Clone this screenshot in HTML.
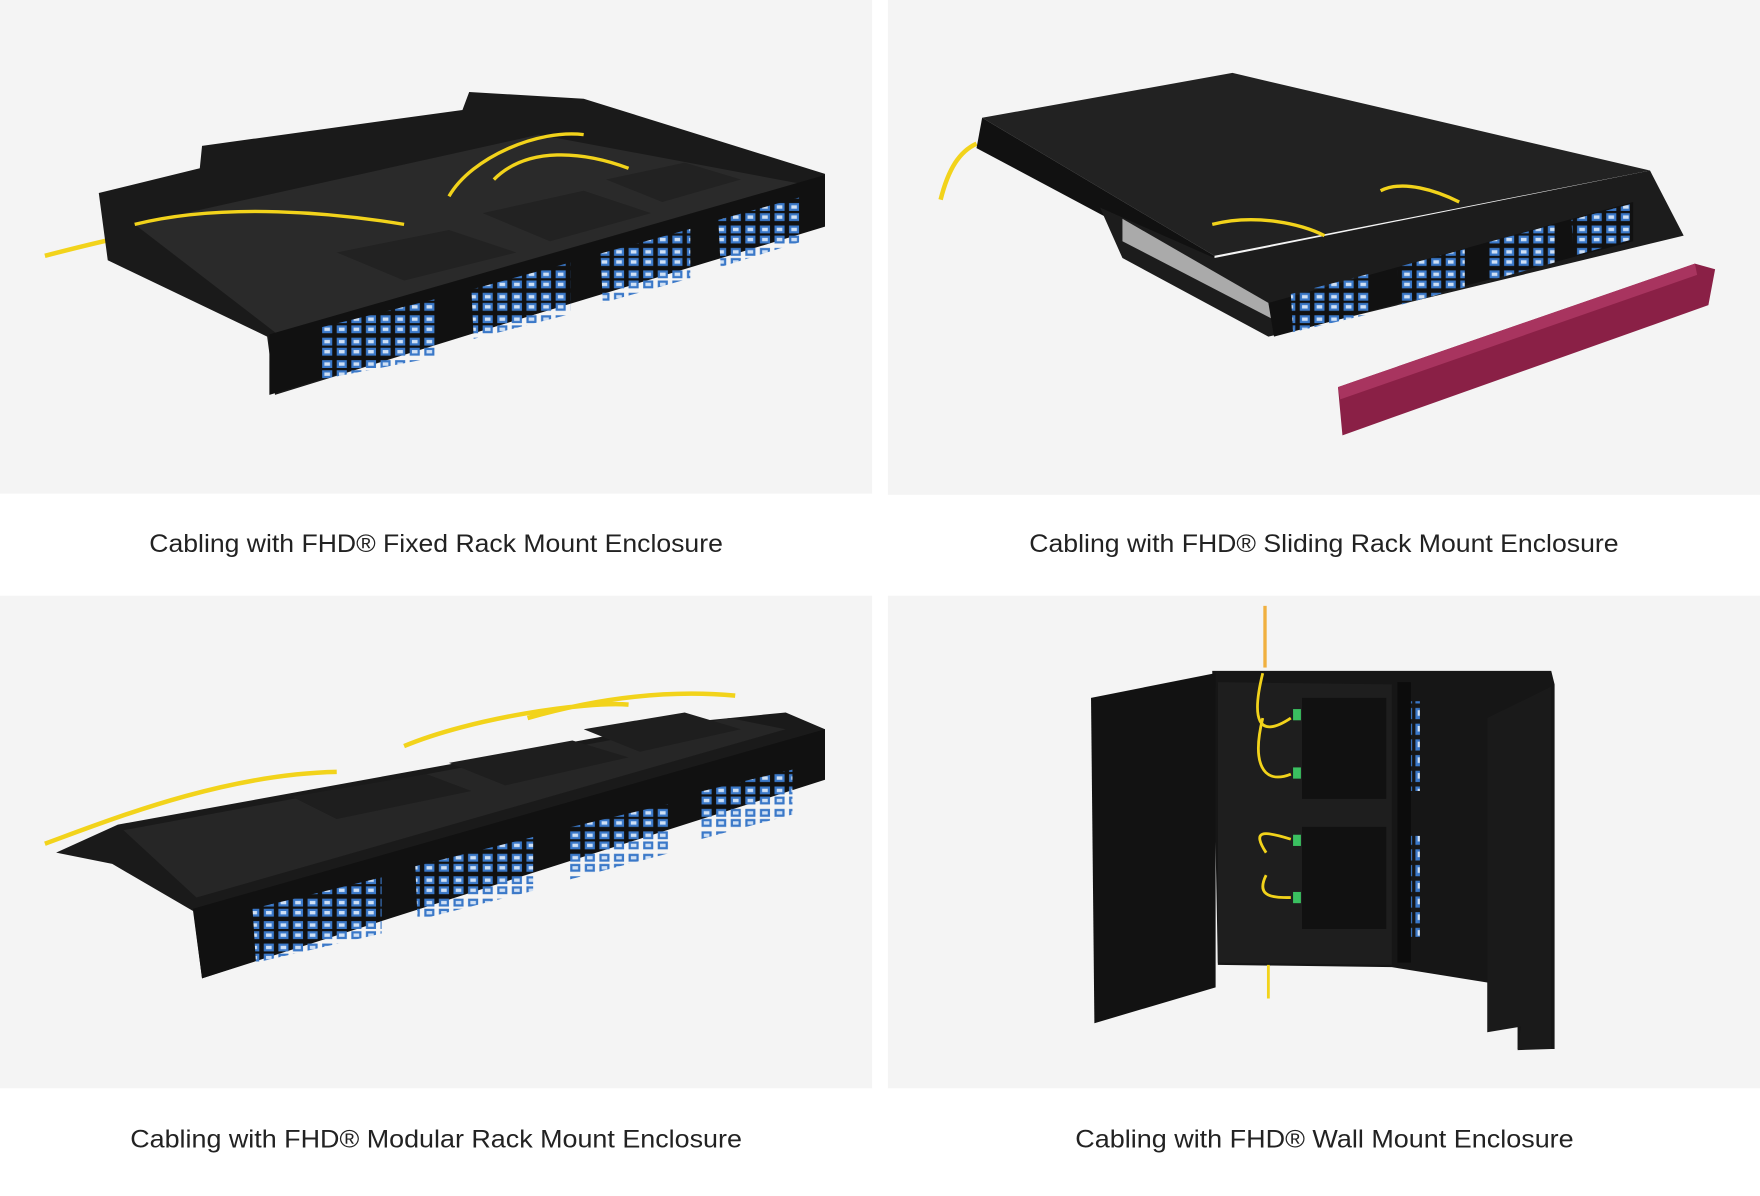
<!DOCTYPE html>
<html><head><meta charset="utf-8"><style>
html,body{margin:0;padding:0;background:#fff;width:1760px;height:1196px;overflow:hidden}
svg{display:block}
</style></head><body>
<svg width="1760" height="1196" viewBox="0 0 1568 1066" preserveAspectRatio="none" xmlns="http://www.w3.org/2000/svg">
<defs>
<pattern id="ports" width="13" height="20" patternUnits="userSpaceOnUse">
<rect x="1" y="1" width="9" height="7" fill="#3a78c8"/><rect x="1" y="10" width="9" height="7" fill="#3a78c8"/>
<rect x="3" y="3" width="5" height="3" fill="#cfe0f5"/><rect x="3" y="12" width="5" height="3" fill="#cfe0f5"/>
</pattern>
<pattern id="vports" width="14" height="14" patternUnits="userSpaceOnUse">
<rect x="1" y="1" width="11" height="10" fill="#3a78c8"/><rect x="3" y="3" width="6" height="5" fill="#cfe0f5"/>
</pattern>
</defs>
<rect width="1568" height="1066" fill="#fff"/>
<rect x="0" y="0" width="777" height="440" fill="#f4f4f4"/>
<rect x="791" y="0" width="777" height="441" fill="#f4f4f4"/>
<rect x="0" y="531" width="777" height="439" fill="#f4f4f4"/>
<rect x="791" y="531" width="777" height="439" fill="#f4f4f4"/>

<!-- Panel 1 fixed -->
<path d="M40 228 C90 215 150 200 240 190" stroke="#f2d31b" stroke-width="4" fill="none"/>
<polygon points="88,172 178,150 180,130 412,98 418,82 520,88 735,155 735,200 245,352 238,300 96,232" fill="#1a1a1a"/>
<polygon points="120,200 480,120 720,165 250,300" fill="#2a2a2a"/>
<polygon points="300,225 400,205 460,225 360,250" fill="#222"/>
<polygon points="430,190 520,170 580,190 490,215" fill="#222"/>
<polygon points="540,160 610,145 660,160 590,180" fill="#222"/>
<path d="M120 200 C200 180 300 190 360 200 M400 175 C420 140 480 115 520 120 M440 160 C470 130 520 135 560 150" stroke="#f2d31b" stroke-width="3" fill="none"/>
<polygon points="240,298 735,156 735,202 240,352" fill="#111"/>
<polygon points="285,292 390,266 390,318 287,338" fill="url(#ports)"/>
<polygon points="420,258 508,234 508,280 422,302" fill="url(#ports)"/>
<polygon points="535,226 615,204 615,248 537,270" fill="url(#ports)"/>
<polygon points="640,196 712,176 712,216 642,238" fill="url(#ports)"/>

<!-- Panel 2 sliding -->
<path d="M838 178 C845 150 855 135 870 128" stroke="#f2d31b" stroke-width="4" fill="none"/>
<polygon points="875,105 1098,65 1470,152 1082,228" fill="#222"/>
<polygon points="875,105 1082,228 1082,245 870,132" fill="#111"/>
<polygon points="980,185 1082,230 1470,152 1500,210 1130,300 1000,230" fill="#1c1c1c"/>
<polygon points="1000,195 1130,270 1135,285 1000,215" fill="#aaa"/>
<polygon points="1130,270 1455,180 1455,215 1135,300" fill="#111"/>
<polygon points="1150,262 1220,244 1220,280 1152,296" fill="url(#ports)"/>
<polygon points="1245,238 1305,222 1305,256 1247,272" fill="url(#ports)"/>
<polygon points="1325,216 1385,200 1385,234 1327,250" fill="url(#ports)"/>
<polygon points="1400,196 1452,182 1452,214 1402,228" fill="url(#ports)"/>
<path d="M1080 200 C1120 190 1160 200 1180 210 M1230 170 C1250 160 1280 170 1300 180" stroke="#f2d31b" stroke-width="3" fill="none"/>
<polygon points="1192,345 1510,235 1528,240 1522,272 1196,388" fill="#8a2046"/>
<polygon points="1192,345 1510,235 1512,245 1194,356" fill="#a8345f"/>

<!-- Panel 3 modular -->
<path d="M40 752 C100 730 200 690 300 688 M360 665 C420 640 520 625 560 628 M470 640 C540 620 600 615 655 620" stroke="#f2d31b" stroke-width="4" fill="none"/>
<polygon points="50,760 105,735 600,645 700,635 735,650 735,690 180,872 172,812 100,770" fill="#1a1a1a"/>
<polygon points="110,740 650,640 700,650 175,800" fill="#262626"/>
<polygon points="260,710 380,690 420,705 300,730" fill="#1e1e1e"/>
<polygon points="400,680 510,660 560,675 450,700" fill="#1e1e1e"/>
<polygon points="520,650 610,635 660,650 570,670" fill="#1e1e1e"/>
<polygon points="172,810 735,650 735,695 180,872" fill="#111"/>
<polygon points="225,810 340,782 340,832 228,858" fill="url(#ports)"/>
<polygon points="370,772 475,746 475,794 372,820" fill="url(#ports)"/>
<polygon points="505,738 598,716 598,760 507,784" fill="url(#ports)"/>
<polygon points="622,706 706,686 706,726 624,748" fill="url(#ports)"/>

<!-- Panel 4 wall -->
<line x1="1127" y1="540" x2="1127" y2="595" stroke="#f0b040" stroke-width="3"/>
<polygon points="1080,598 1382,598 1385,610 1385,935 1352,935 1352,880 1240,862 1085,860" fill="#161616"/>
<polygon points="1085,608 1240,610 1240,860 1085,858" fill="#1e1e1e"/>
<polygon points="972,622 1083,600 1083,880 975,912" fill="#121212"/>
<polygon points="1160,622 1235,622 1235,712 1160,712" fill="#111"/>
<polygon points="1160,737 1235,737 1235,828 1160,828" fill="#111"/>
<rect x="1245" y="608" width="12" height="250" fill="#0c0c0c"/>
<rect x="1257" y="625" width="8" height="80" fill="url(#vports)"/>
<rect x="1257" y="745" width="8" height="90" fill="url(#vports)"/>
<polygon points="1325,640 1382,612 1382,935 1352,936 1355,915 1325,920" fill="#1a1a1a"/>
<path d="M1125 600 C1115 640 1120 660 1150 640 M1125 640 C1115 680 1125 700 1150 690 M1128 760 C1115 740 1125 740 1150 748 M1128 780 C1118 800 1135 800 1150 800 M1130 860 L1130 890" stroke="#f2d31b" stroke-width="2.5" fill="none"/>
<rect x="1152" y="632" width="7" height="10" fill="#3ac060"/><rect x="1152" y="684" width="7" height="10" fill="#3ac060"/>
<rect x="1152" y="744" width="7" height="10" fill="#3ac060"/><rect x="1152" y="795" width="7" height="10" fill="#3ac060"/>

<g font-family="'Liberation Sans', sans-serif" font-size="22.5" fill="#222">
<text x="133" y="492" textLength="511" lengthAdjust="spacingAndGlyphs">Cabling with FHD® Fixed Rack Mount Enclosure</text>
<text x="917" y="492" textLength="525" lengthAdjust="spacingAndGlyphs">Cabling with FHD® Sliding Rack Mount Enclosure</text>
<text x="116" y="1023" textLength="545" lengthAdjust="spacingAndGlyphs">Cabling with FHD® Modular Rack Mount Enclosure</text>
<text x="958" y="1023" textLength="444" lengthAdjust="spacingAndGlyphs">Cabling with FHD® Wall Mount Enclosure</text>
</g>
</svg>
</body></html>
